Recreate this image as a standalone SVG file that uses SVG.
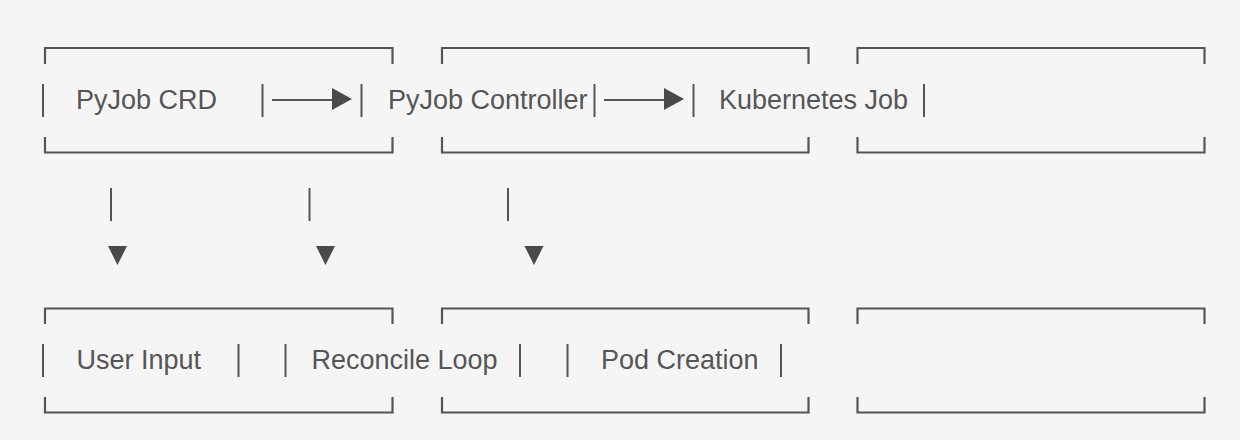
<svg xmlns="http://www.w3.org/2000/svg" width="1240" height="440" viewBox="0 0 1240 440">
<style>
.frame{fill:none;stroke:#555;stroke-width:2.2}
.bar{stroke:#555;stroke-width:2}
.lbl{font-family:"Liberation Sans",Arial,sans-serif;font-size:27px;fill:#555}
.head{fill:#4a4a4a}
</style>
<rect width="1240" height="440" fill="#f5f5f5"/>
<g id="node-pyjob-crd">
<path class="frame" d="M45,64 V48 H392.5 V64 M45,137 V152.5 H392.5 V137"/>
<line class="bar" x1="43" y1="84" x2="43" y2="117"/>
<text class="lbl" x="76" y="109">PyJob CRD</text>
<line class="bar" x1="262.5" y1="84" x2="262.5" y2="117"/>
</g>
<g id="node-pyjob-controller">
<path class="frame" d="M442,64 V48 H808.5 V64 M442,137 V152.5 H808.5 V137"/>
<line class="bar" x1="361.5" y1="84" x2="361.5" y2="117"/>
<text class="lbl" x="388" y="109">PyJob Controller</text>
<line class="bar" x1="594.5" y1="84" x2="594.5" y2="117"/>
</g>
<g id="node-kubernetes-job">
<path class="frame" d="M857.5,64 V48 H1204.5 V64 M857.5,137 V152.5 H1204.5 V137"/>
<line class="bar" x1="693.5" y1="84" x2="693.5" y2="117"/>
<text class="lbl" x="719" y="109">Kubernetes Job</text>
<line class="bar" x1="924" y1="84" x2="924" y2="117"/>
</g>
<g id="node-user-input">
<path class="frame" d="M45,324 V308.5 H392.5 V324 M45,397 V412.5 H392.5 V397"/>
<line class="bar" x1="43" y1="344" x2="43" y2="377"/>
<text class="lbl" x="76.5" y="369">User Input</text>
<line class="bar" x1="238.5" y1="344" x2="238.5" y2="377"/>
</g>
<g id="node-reconcile-loop">
<path class="frame" d="M442,324 V308.5 H808.5 V324 M442,397 V412.5 H808.5 V397"/>
<line class="bar" x1="285.5" y1="344" x2="285.5" y2="377"/>
<text class="lbl" x="311.5" y="369">Reconcile Loop</text>
<line class="bar" x1="520" y1="344" x2="520" y2="377"/>
</g>
<g id="node-pod-creation">
<path class="frame" d="M857.5,324 V308.5 H1204.5 V324 M857.5,397 V412.5 H1204.5 V397"/>
<line class="bar" x1="567.5" y1="344" x2="567.5" y2="377"/>
<text class="lbl" x="601" y="369">Pod Creation</text>
<line class="bar" x1="781" y1="344" x2="781" y2="377"/>
</g>
<g id="connectors">
<line class="bar" x1="272" y1="100" x2="333" y2="100"/>
<polygon class="head" points="332,88 352,99 332,110"/>
<line class="bar" x1="604" y1="100" x2="665" y2="100"/>
<polygon class="head" points="664,88 684,99 664,110"/>
<line class="bar" x1="111" y1="188" x2="111" y2="221"/>
<polygon class="head" points="108,246 127,246 117.5,265"/>
<line class="bar" x1="309.5" y1="188" x2="309.5" y2="221"/>
<polygon class="head" points="316,246 335,246 325.5,265"/>
<line class="bar" x1="508" y1="188" x2="508" y2="221"/>
<polygon class="head" points="524.5,246 543.5,246 534,265"/>
</g>
</svg>
